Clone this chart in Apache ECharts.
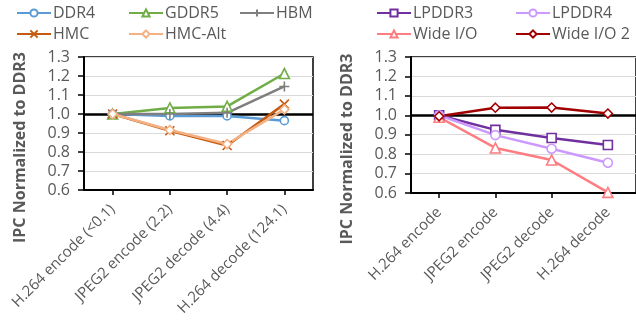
<!DOCTYPE html>
<html>
<head>
<meta charset="utf-8">
<script src="https://cdn.jsdelivr.net/npm/echarts@6/dist/echarts.min.js"></script>
<style>
  html, body { margin: 0; padding: 0; background: #fff; }
  #chart { width: 636px; height: 329px; }
</style>
</head>
<body>
<div id="chart"></div>
<script>
// categories
const leftCats = ["H.264 encode (<0.1)", "JPEG2 encode (2.2)", "JPEG2 decode (4.4)", "H.264 decode (124.1)"];
const rightCats = ["H.264 encode", "JPEG2 encode", "JPEG2 decode", "H.264 decode"];
const yTicks = [0.6, 1.3, 0.1]; // min, max, step

// left panel series
const ddr4 = [1.0, 0.99, 0.99, 0.965];
const gddr5 = [1.0, 1.032, 1.04, 1.213];
const hbm = [1.0, 1.0, 1.006, 1.145];
const hmc = [1.0, 0.912, 0.834, 1.052];
const hmcAlt = [1.0, 0.916, 0.842, 1.024];

// right panel series
const lpddr3 = [1.0, 0.925, 0.883, 0.847];
const lpddr4 = [1.0, 0.898, 0.828, 0.756];
const wideIO = [0.99, 0.832, 0.77, 0.603];
const wideIO2 = [0.995, 1.039, 1.04, 1.009];

const PLUS = "path://M5,0 L5,10 M0,5 L10,5";
const CROSS = "path://M0,0 L10,10 M10,0 L0,10";

const gray = "#595959";
const font = "'Open Sans', 'DejaVu Sans', sans-serif";

const mk = (name, data, color, symbol, size, idx) => ({
  name: name,
  type: "line",
  xAxisIndex: idx,
  yAxisIndex: idx,
  data: data,
  symbol: symbol,
  symbolSize: size,
  showAllSymbol: true,
  lineStyle: { color: color, width: 2.5 },
  itemStyle: { color: "#fff", borderColor: color, borderWidth: 1.6 },
  emphasis: { disabled: true },
  z: 3,
});

const series = [
  mk("DDR4", ddr4, "#5B9BD5", "circle", 8, 0),
  mk("GDDR5", gddr5, "#70AD47", "triangle", 10, 0),
  mk("HBM", hbm, "#7F7F7F", PLUS, 10, 0),
  mk("HMC", hmc, "#C55A11", CROSS, 9, 0),
  mk("HMC-Alt", hmcAlt, "#F4B183", "diamond", 9, 0),
  mk("LPDDR3", lpddr3, "#7030A0", "rect", 9, 1),
  mk("LPDDR4", lpddr4, "#CC99FF", "circle", 9, 1),
  mk("Wide I/O", wideIO, "#FF7C80", "triangle", 10, 1),
  mk("Wide I/O 2", wideIO2, "#A00000", "diamond", 9, 1),
];

// thick reference line at 1.0 in both panels
[0, 5].forEach((i) => {
  series[i].markLine = {
    silent: true,
    symbol: "none",
    label: { show: false },
    lineStyle: { color: "#000", width: 2.5, type: "solid" },
    data: [{ yAxis: 1.0 }],
    z: 2,
  };
});

const legendPos = [
  ["DDR4", 16, 5], ["GDDR5", 128, 5], ["HBM", 239, 5],
  ["HMC", 16, 26], ["HMC-Alt", 128, 26],
  ["LPDDR3", 376, 5], ["LPDDR4", 515, 5],
  ["Wide I/O", 376, 26], ["Wide I/O 2", 515, 26],
];

const legends = legendPos.map((p) => ({
  data: [p[0]],
  left: p[1],
  top: p[2],
  itemWidth: 34,
  itemHeight: 9,
  padding: 0,
  selectedMode: false,
  textStyle: { color: gray, fontSize: 16, fontFamily: font, padding: [0, 0, 0, -3] },
}));

const yAxisCfg = (idx) => ({
  type: "value",
  gridIndex: idx,
  min: yTicks[0],
  max: yTicks[1],
  interval: yTicks[2],
  name: "IPC Normalized to DDR3",
  nameLocation: "middle",
  nameGap: 56,
  nameTextStyle: { color: gray, fontSize: 16, fontWeight: "bold", fontFamily: font, padding: [0, 48, 0, 0] },
  axisLine: { show: true, lineStyle: { color: "#000", width: 2 } },
  axisTick: { show: true, length: 6, lineStyle: { color: "#000", width: 1.5 } },
  axisLabel: { color: gray, fontSize: 16, fontFamily: font, margin: 14, formatter: (v) => v.toFixed(1) },
  splitLine: { show: true, lineStyle: { color: "#D9D9D9", width: 1.2 } },
});

const xAxisCfg = (idx, cats) => ({
  type: "category",
  gridIndex: idx,
  data: cats,
  axisLine: { show: true, onZero: false, lineStyle: { color: "#000", width: 2 } },
  axisTick: { show: true, alignWithLabel: true, length: 5, lineStyle: { color: "#000", width: 1.5 } },
  axisLabel: { color: gray, fontSize: 15, fontFamily: font, rotate: 45, margin: 17, interval: 0 },
});

const chart = echarts.init(document.getElementById("chart"), null, { renderer: "canvas" });
chart.setOption({
  animation: false,
  backgroundColor: "#fff",
  legend: legends,
  grid: [
    { left: 84, top: 57, width: 229, height: 133, show: true, borderColor: "#000", borderWidth: 1.5 },
    { left: 411, top: 57, width: 227, height: 136, show: true, borderColor: "#000", borderWidth: 1.5 },
  ],
  xAxis: [xAxisCfg(0, leftCats), xAxisCfg(1, rightCats)],
  yAxis: [yAxisCfg(0), yAxisCfg(1)],
  series: series,
});
</script>
</body>
</html>
